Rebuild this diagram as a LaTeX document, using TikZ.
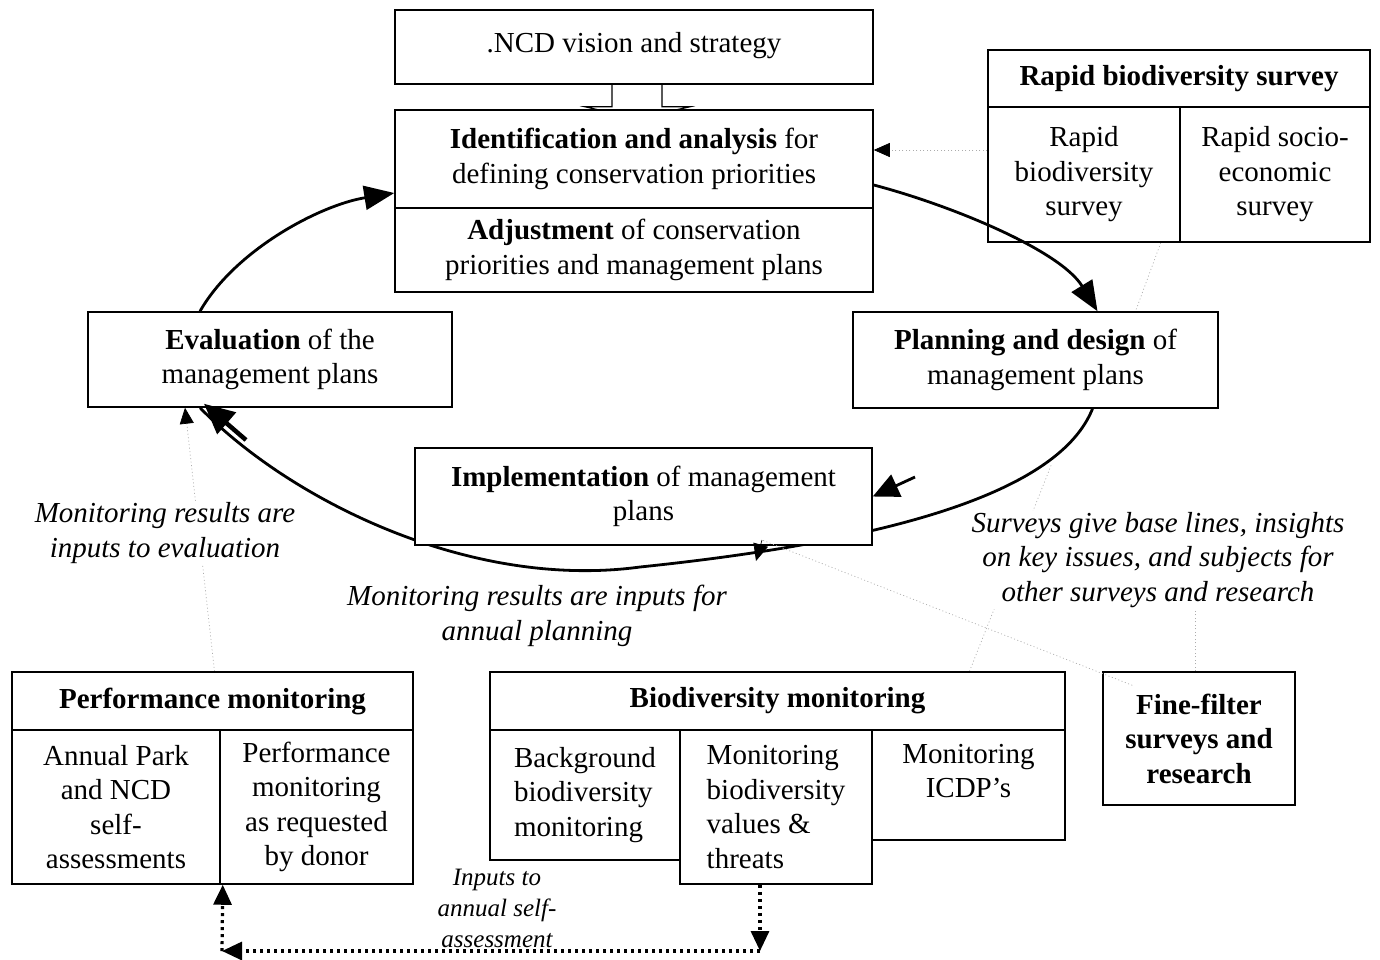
\documentclass[tikz,border=0pt]{standalone}
\usepackage{fontspec}
\setmainfont{Liberation Serif}
\usetikzlibrary{arrows.meta,calc}
\pgfdeclarelayer{dots}\pgfdeclarelayer{ann}\pgfdeclarelayer{curves}\pgfdeclarelayer{front}
\pgfsetlayers{dots,ann,curves,main,front}
\begin{document}
\begin{tikzpicture}[x=1pt,y=-1pt,
 box/.style={draw,line width=1.5pt,fill=white,inner sep=0pt,align=center,font=\fontsize{29}{34.5}\selectfont},
 note/.style={align=center,font=\fontsize{29}{34.5}\selectfont\itshape,fill=white,inner sep=1pt},
 cyc/.style={line width=2.8pt,-{Triangle[length=30pt,width=24pt]}},
 faint/.style={gray!65,line width=0.7pt,dash pattern=on 1pt off 2.5pt},
 faintarrow/.style={faint,-{Triangle[length=16pt,width=14pt,color=black]}},
 thickdot/.style={line width=3.2pt,dash pattern=on 3pt off 4pt,-{Triangle[length=20pt,width=18pt]}},
]
\useasboundingbox (0,0) rectangle (1380,959);

% boxes
\node[box,minimum width=478pt,minimum height=74pt] (vision) at (634,47) {.NCD vision and strategy\\[-26pt]};
\node[box,minimum width=478pt,minimum height=98pt] (ident) at (634,159) {\textbf{Identification and analysis} for\\defining conservation priorities};
\node[box,minimum width=478pt,minimum height=84pt] (adjust) at (634,250) {\textbf{Adjustment} of conservation\\priorities and management plans};

\node[box,minimum width=382pt,minimum height=57pt] (rapidH) at (1179,78.5) {\textbf{Rapid biodiversity survey}};
\node[box,minimum width=192pt,minimum height=135pt] (rapidL) at (1084,174.5) {Rapid\\biodiversity\\survey};
\node[box,minimum width=190pt,minimum height=135pt] (rapidR) at (1275,174.5) {Rapid socio-\\economic\\survey};

\node[box,minimum width=365pt,minimum height=96pt] (plan) at (1035.5,360) {\textbf{Planning and design} of\\management plans};
\node[box,minimum width=364pt,minimum height=95pt] (eval) at (270,359.5) {\textbf{Evaluation} of the\\management plans};
\node[box,minimum width=457pt,minimum height=97pt] (impl) at (643.5,496.5) {\textbf{Implementation} of management\\plans};

\node[box,minimum width=401pt,minimum height=58pt] (perfH) at (212.5,701) {\textbf{Performance monitoring}};
\node[box,minimum width=208pt,minimum height=154pt] (perfL) at (116,807) {Annual Park\\and NCD\\self-\\assessments};
\node[box,minimum width=193pt,minimum height=154pt] (perfR) at (316.5,807) {Performance\\monitoring\\as requested\\by donor};

\node[box,minimum width=575pt,minimum height=58pt] (bioH) at (777.5,701) {\textbf{Biodiversity monitoring}};
\node[box,align=left,minimum width=190pt,minimum height=130pt] (bg) at (585,795) {Background\\biodiversity\\monitoring};
\node[box,minimum width=193pt,minimum height=110pt] (icdp) at (968.5,785) {Monitoring\\ICDP’s\\[-6pt]};
\node[box,align=left,minimum width=192pt,minimum height=154pt] (vals) at (776,807) {Monitoring\\biodiversity\\values \&\\threats};

\node[box,font=\fontsize{29}{34.5}\selectfont\bfseries,minimum width=192pt,minimum height=133pt] (fine) at (1199,738.5) {Fine-filter\\surveys and\\research};

% annotations
\begin{pgfonlayer}{ann}
\node[note] (annEval) at (165,533) {Monitoring results are\\inputs to evaluation};
\node[note] (annPlan) at (537,616) {Monitoring results are inputs for\\annual planning};
\node[note] (annSurv) at (1158,560) {Surveys give base lines, insights\\on key issues, and subjects for\\other surveys and research};
\end{pgfonlayer}
\node[align=center,inner sep=0pt,font=\fontsize{25}{31}\selectfont\itshape] (annInput) at (497,908) {Inputs to\\annual self-\\assessment};

% faint dotted connectors
\begin{pgfonlayer}{dots}
\draw[faintarrow] ([yshift=24.5pt]rapidL.west) -- ([yshift=9pt]ident.east);
\draw[faint] ([xshift=-20pt]rapidL.south east) -- ([xshift=100pt]plan.north);
\coordinate (bioT) at (1052,463);
\draw[faint] ([xshift=192pt]bioH.north) -- (bioT);
\draw[faint] ([xshift=-4pt]fine.north) -- ([xshift=-4pt]fine.north |- annSurv.south);
\draw[faintarrow] ([xshift=2pt]perfH.north) -- ([xshift=-85pt]eval.south);
\end{pgfonlayer}

\begin{pgfonlayer}{front}
\coordinate (ffB) at (762,540);
\coordinate (ffE) at (756,561);
\draw[faint] ([xshift=30pt,yshift=-14pt]fine.north west) -- (ffB);
\draw[line width=0.7pt,-{Triangle[length=17pt,width=15pt]}] (ffB) -- (ffE);
\end{pgfonlayer}

% main cycle
\begin{pgfonlayer}{curves}
\draw[line width=1.2pt,fill=white] ([xshift=-22pt]vision.south) -- ++(0,22) -- ++(-27,0) -- ++(52,12) -- ++(53,-12) -- ++(-28,0) -- ++(0,-22);
\draw[cyc] ([xshift=-70pt]eval.north) .. controls (235,250) and (320,205) .. ([yshift=-34pt]ident.west);
\coordinate (loopbot) at (640,567);
\draw[line width=2.8pt] ([xshift=57pt]plan.south) .. controls (1060,490) and (900,540) .. (loopbot) .. controls (470,590) and (290,500) .. ([xshift=-70pt]eval.south);
\end{pgfonlayer}
\begin{pgfonlayer}{front}
\draw[cyc] ([yshift=-26pt]ident.east) .. controls (950,205) and (1060,250) .. ([xshift=62pt]plan.north);
\coordinate (imA) at (915,477);
\draw[line width=2.8pt,-{Triangle[length=26pt,width=24pt]}] (imA) -- (impl.east);
\coordinate (evA) at (246,440);
\draw[line width=4.5pt,-{Triangle[length=30pt,width=28pt]}] (evA) -- ([xshift=-66pt,yshift=4pt]eval.south);
\end{pgfonlayer}

% thick dotted
\coordinate (dR) at (760,951);
\coordinate (dL) at (222,951);
\draw[thickdot] ([xshift=-16pt]vals.south) -- (dR);
\draw[thickdot] (dR) -- (dL);
\draw[thickdot] (dL) -- ([xshift=2pt]perfL.south east);
\end{tikzpicture}
\end{document}
